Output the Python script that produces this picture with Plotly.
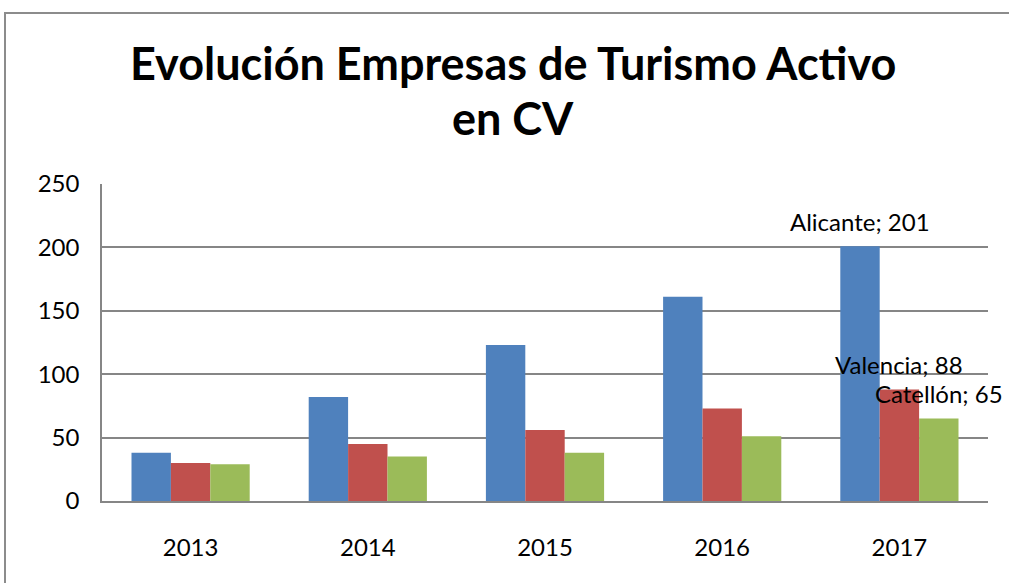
import plotly.graph_objects as go

years = ["2013", "2014", "2015", "2016", "2017"]
alicante = [38, 82, 123, 161, 201]
valencia = [30, 45, 56, 73, 88]
castellon = [29, 35, 38, 51, 65]
series_names = ["Alicante", "Valencia", "Catellón"]
colors = ["#4F81BD", "#C0504D", "#9BBB59"]
y_ticks = [0, 50, 100, 150, 200, 250]
title_lines = ["Evolución Empresas de Turismo Activo", "en CV"]

W, H = 1009, 583
ML, MR, MT, MB = 102, 21, 184, 82
BARGAP = 0.333
FONT = "Lato, Carlito, Calibri, sans-serif"

fig = go.Figure()
for name, vals, col in zip(series_names, [alicante, valencia, castellon], colors):
    fig.add_trace(go.Bar(x=years, y=vals, name=name, marker=dict(color=col, line=dict(width=0))))

plot_w = W - ML - MR
plot_h = H - MT - MB
cat_w = plot_w / len(years)
bar_w = cat_w * (1 - BARGAP) / 3

# data labels for the last category (x given as category index)
last = len(years) - 1
for i, (name, vals) in enumerate(zip(series_names, [alicante, valencia, castellon])):
    fig.add_annotation(x=last, y=vals[last], text=f"{name}; {vals[last]}",
                       showarrow=False, xshift=(i - 1) * bar_w, yshift=25,
                       yanchor="middle", xanchor="center",
                       font=dict(family=FONT, size=24, color="#000000"))

# title (two lines)
for line, ypix in zip(title_lines, [63, 118]):
    fig.add_annotation(xref="paper", yref="paper", x=(513 - ML) / plot_w,
                       y=(H - MB - ypix) / plot_h,
                       text=f"<b>{line}</b>", showarrow=False,
                       xanchor="center", yanchor="middle",
                       font=dict(family=FONT, size=45, color="#000000"))

# outer chart frame
fig.add_shape(type="rect", xref="paper", yref="paper",
              x0=(5 - ML) / plot_w, x1=(1030 - ML) / plot_w,
              y0=(H - MB - 600) / plot_h, y1=(H - MB - 13) / plot_h,
              line=dict(color="#8C8C8C", width=2), fillcolor="rgba(0,0,0,0)", layer="below")

fig.update_layout(
    width=W, height=H,
    margin=dict(l=ML, r=MR, t=MT, b=MB),
    barmode="group", bargap=BARGAP, bargroupgap=0,
    showlegend=False,
    plot_bgcolor="white", paper_bgcolor="white",
    font=dict(family=FONT, size=24, color="#000000"),
)
fig.update_xaxes(type="category", range=[-0.5, len(years) - 0.5], autorange=False,
                 showgrid=False, showline=True, linecolor="#868686",
                 linewidth=1.5, ticks="", ticklabelstandoff=24, tickfont=dict(size=24))
fig.update_yaxes(range=[0, 250], autorange=False, tickvals=y_ticks, showgrid=True,
                 gridcolor="#868686", gridwidth=1.5, showline=True, linecolor="#868686",
                 linewidth=1.5, zeroline=False, ticks="", ticklabelstandoff=16,
                 tickfont=dict(size=24))

fig.write_html("out.html", config={"displayModeBar": False},
               post_script="document.body.style.margin='0';")
